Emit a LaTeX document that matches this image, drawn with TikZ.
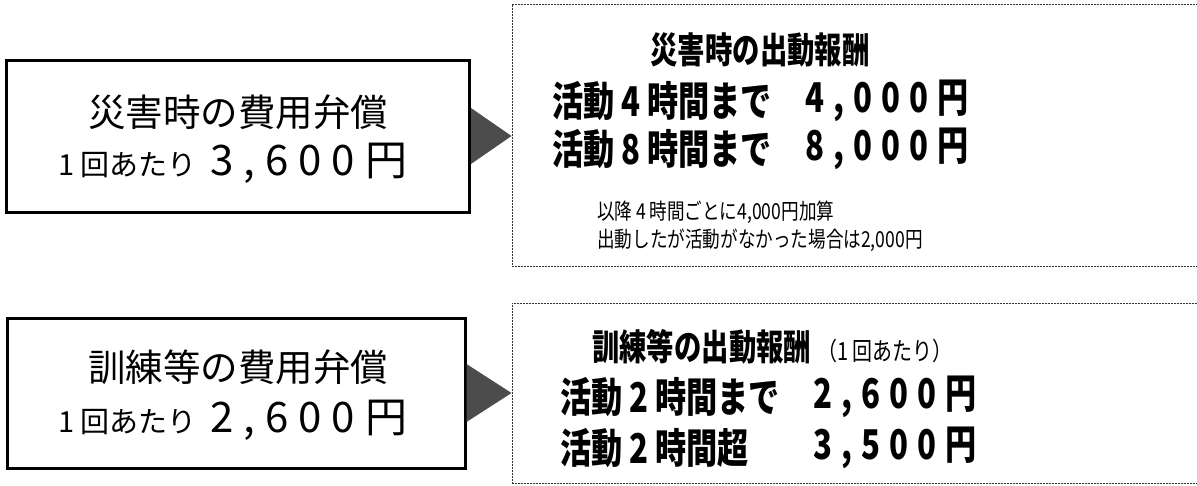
\documentclass[tikz,border=0pt]{standalone}
\usepackage{fontspec}
\setmainfont{Noto Sans CJK JP}
\newfontfamily\jpnarrow[FakeStretch=0.8]{Noto Sans CJK JP}
\newfontfamily\jpheavy[FakeStretch=0.76]{Noto Sans CJK JP Black}
\usetikzlibrary{positioning}
\newcommand\wgap{\kern10pt}
\newcommand\ngap{\kern9pt}
\tikzstyle{costbox}=[rectangle,draw=black,line width=3pt,minimum width=463pt,minimum height=152pt]
\tikzstyle{paybox}=[rectangle,draw=black!80,line width=1pt,dash pattern=on 2pt off 1pt,minimum width=698pt]
\tikzstyle{pointer}=[fill=black!70]
\tikzstyle{txt}=[inner sep=0pt]
\tikzstyle{big}=[txt,anchor=west,font=\jpheavy\fontsize{41}{41}\selectfont]
\tikzstyle{head}=[txt,font=\jpheavy\fontsize{36}{36}\selectfont]
\tikzstyle{note}=[txt,anchor=west,font=\jpnarrow\fontsize{22}{22}\selectfont]

\begin{document}
\begin{tikzpicture}[x=1pt,y=-1pt]
  \clip (0,0) rectangle (1197,485);
  \fill[white] (0,0) rectangle (1197,485);

  % upper row
  \node [costbox] (cost1) at (238,136) {};
  \node [txt,font=\fontsize{37.5}{37.5}\selectfont] (cost1title) at (238,112) {災害時の費用弁償};
  \node [txt,anchor=west] (cost1rate) at (58,163) {\fontsize{29}{29}\selectfont 1\kern6pt回あたり\kern14pt\fontsize{42}{42}\selectfont 3\wgap,\wgap6\wgap0\wgap0\wgap{}円};
  \node [paybox,minimum height=262pt] (pay1) at (861,135) {};
  \fill [pointer] ([yshift=-28pt]cost1.east) -- (cost1.east -| pay1.west) -- ([yshift=28pt]cost1.east) -- cycle;
  \node [head] (pay1title) at (760,50) {災害時の出動報酬};
  \node [big] (pay1four) at (552,101) {活動\,4\,時間まで};
  \node [big] (pay1eight) at (552,149) {活動\,8\,時間まで};
  \node [big] (pay1fourval) at (805,101) {4\ngap,\ngap0\ngap0\ngap0\ngap{}円};
  \node [big] (pay1eightval) at (805,149) {8\ngap,\ngap0\ngap0\ngap0\ngap{}円};
  \node [note] (pay1more) at (597,212) {以降\,4\,時間ごとに4,000円加算};
  \node [note] (pay1idle) at (597,240) {出動したが活動がなかった場合は2,000円};

  % lower row
  \node [costbox,minimum width=458pt,minimum height=150pt] (cost2) at (236,393) {};
  \node [txt,font=\fontsize{37.5}{37.5}\selectfont] (cost2title) at (238,367) {訓練等の費用弁償};
  \node [txt,anchor=west] (cost2rate) at (58,420) {\fontsize{29}{29}\selectfont 1\kern6pt回あたり\kern14pt\fontsize{42}{42}\selectfont 2\wgap,\wgap6\wgap0\wgap0\wgap{}円};
  \node [paybox,minimum height=180pt] (pay2) at (861,393) {};
  \fill [pointer] ([yshift=-29pt]cost2.east) -- (cost2.east -| pay2.west) -- ([yshift=29pt]cost2.east) -- cycle;
  \node [head,anchor=west] (pay2title) at (592,347) {訓練等の出動報酬\kern6pt{\jpnarrow\fontsize{25}{25}\selectfont（1\,回あたり）}};
  \node [big] (pay2upto) at (560,397) {活動\,2\,時間まで};
  \node [big] (pay2over) at (560,448) {活動\,2\,時間超};
  \node [big] (pay2uptoval) at (813,397) {2\ngap,\ngap6\ngap0\ngap0\ngap{}円};
  \node [big] (pay2overval) at (813,448) {3\ngap,\ngap5\ngap0\ngap0\ngap{}円};
\end{tikzpicture}
\end{document}
